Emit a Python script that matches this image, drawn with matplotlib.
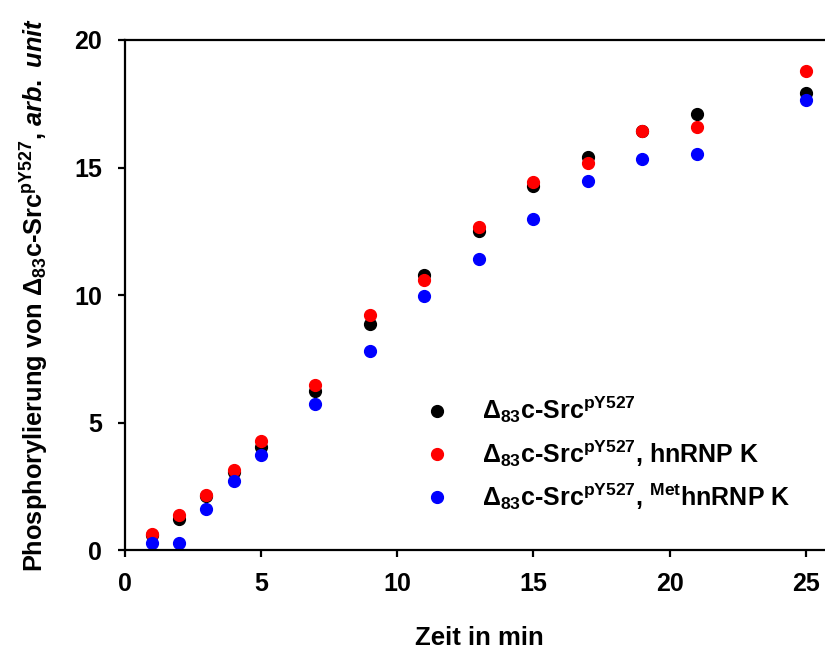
import matplotlib
matplotlib.use('Agg')
import matplotlib.pyplot as plt

# Daten
zeit = [1, 2, 3, 4, 5, 7, 9, 11, 13, 15, 17, 19, 21, 25]
src = [0.6, 1.22, 2.12, 3.08, 4.03, 6.25, 8.86, 10.78, 12.52, 14.27, 15.42, 16.42, 17.1, 17.93]
src_hnrnpk = [0.65, 1.37, 2.16, 3.14, 4.29, 6.46, 9.22, 10.61, 12.68, 14.44, 15.19, 16.42, 16.6, 18.78]
src_met_hnrnpk = [0.29, 0.29, 1.61, 2.72, 3.73, 5.74, 7.8, 9.95, 11.42, 12.98, 14.48, 15.33, 15.54, 17.65]

labels = [
    r'Δ$_{83}$c-Src$^{\mathrm{pY527}}$',
    r'Δ$_{83}$c-Src$^{\mathrm{pY527}}$, hnRNP K',
    r'Δ$_{83}$c-Src$^{\mathrm{pY527}}$, ${}^{\mathrm{Met}}$hnRNP K',
]
farben = ['black', 'red', 'blue']

plt.rcParams['font.family'] = ['Liberation Sans', 'DejaVu Sans']
plt.rcParams['font.weight'] = 'bold'
plt.rcParams['mathtext.fontset'] = 'custom'
plt.rcParams['mathtext.rm'] = 'Liberation Sans:bold'
plt.rcParams['mathtext.bf'] = 'Liberation Sans:bold'
plt.rcParams['mathtext.it'] = 'Liberation Sans:bold:italic'

fig = plt.figure(figsize=(8.25, 6.55), dpi=100)
ax = fig.add_axes([0.151, 0.160, 0.859, 0.779])

for werte, farbe, lab in zip([src, src_hnrnpk, src_met_hnrnpk], farben, labels):
    ax.plot(zeit, werte, 'o', color=farbe, markersize=8.5, label=lab, clip_on=False)

ax.set_xlim(0, 26)
ax.set_ylim(0, 20)
ax.set_xticks([0, 5, 10, 15, 20, 25])
ax.set_yticks([0, 5, 10, 15, 20])

for s in ['left', 'bottom', 'top', 'right']:
    ax.spines[s].set_linewidth(1.6)
ax.tick_params(direction='out', length=5, width=1.6, labelsize=18, pad=11)
ax.tick_params(axis='x', top=False)
ax.tick_params(axis='y', right=False)

ax.set_xlabel('Zeit in min', fontsize=18.5, fontweight='bold', labelpad=21)
ax.set_ylabel(r'Phosphorylierung von Δ$_{83}$c-Src$^{\mathrm{pY527}}$, $\mathit{arb.\ unit}$',
              fontsize=18.3, fontweight='bold', labelpad=17)

ax.legend(loc='center left', bbox_to_anchor=(0.383, 0.19), frameon=False,
          fontsize=18, handletextpad=1.05, labelspacing=0.5, handlelength=1.5)

fig.savefig('out.png', dpi=100)
